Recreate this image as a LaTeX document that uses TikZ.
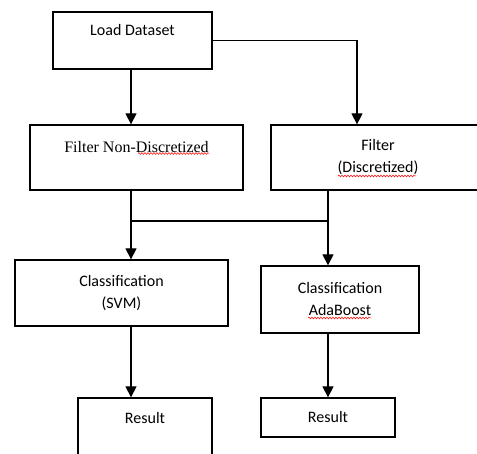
\documentclass[tikz,border=0pt]{standalone}
\usepackage{fontspec}
\setmainfont{Carlito}
\newfontfamily\timesfont{Liberation Serif}
\usetikzlibrary{arrows.meta,calc,decorations.pathmorphing}

\begin{document}
\begin{tikzpicture}[x=1pt, y=-1pt,
    box/.style={draw, line width=1.3pt, align=center, inner sep=0pt, font=\fontsize{16}{22}\selectfont},
    arr/.style={-{Triangle[length=11pt, width=11pt]}, line width=1.3pt},
    lnk/.style={line width=1.3pt},
    squig/.style={red, line width=0.5pt, decorate, decoration={snake, amplitude=0.9pt, segment length=3pt}}
]
\useasboundingbox (0,0) rectangle (477,454);

% boxes
\node[box, minimum width=159pt, minimum height=57pt] (load) at (132.5,40.5) {Load Dataset\\\mbox{}};
\node[box, minimum width=213pt, minimum height=65pt, font=\fontsize{16}{22}\timesfont] (filtn) at (136.5,157.5) {Filter Non-Discretized\\\mbox{}};
\node[box, minimum width=214pt, minimum height=65pt] (filtd) at (378,157.5) {Filter\\(Discretized)};
\node[box, minimum width=213pt, minimum height=66pt] (svm) at (121.5,293) {Classification\\(SVM)};
\node[box, minimum width=158pt, minimum height=67pt] (ada) at (340,299.5) {Classification\\AdaBoost};
\node[box, minimum width=134pt, minimum height=62pt] (resl) at (145,429) {Result\\\mbox{}};
\node[box, minimum width=134pt, minimum height=39pt] (resr) at (328,417.5) {Result};

% taps
\coordinate (tapl) at (131,0);
\coordinate (tapm) at (328,0);
\coordinate (tapr) at (357,0);
\coordinate (junl) at (131,221);
\coordinate (junr) at (328,221);

% connectors
\draw[arr] (load.south -| tapl) -- (filtn.north -| tapl);
\draw[arr] (load.east) -| (filtd.north -| tapr);
\draw[arr] (filtn.south -| tapl) -- (svm.north -| tapl);
\draw[arr] (filtd.south -| tapm) -- (ada.north -| tapm);
\draw[lnk] (junl) -- (junr);
\draw[arr] (svm.south -| tapl) -- (resl.north -| tapl);
\draw[arr] (ada.south -| tapm) -- (resr.north -| tapm);

% spelling marks
\draw[squig] ($(filtn.center)+(1.5,-4)$) -- ($(filtn.center)+(72.5,-4)$);
\draw[squig] ($(filtd.center)+(-40,18.5)$) -- ($(filtd.center)+(38,18.5)$);
\draw[squig] ($(ada.center)+(-32,18.5)$) -- ($(ada.center)+(31,18.5)$);
\end{tikzpicture}
\end{document}
